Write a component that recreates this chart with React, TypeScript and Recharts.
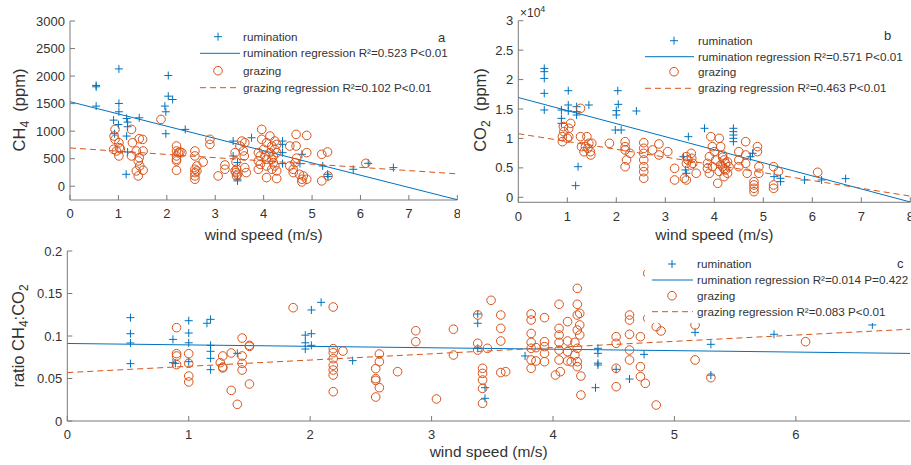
import React from 'react';
import { ScatterChart, Scatter, XAxis, YAxis, Legend, Label } from 'recharts';

const FONT = '"Liberation Sans", Arial, Helvetica, sans-serif';
const BLUE = '#0072BD';
const ORANGE = '#D95319';
const AXIS = '#7a7a7a';
const TEXT = '#333333';

type P = [number, number];

// ---------- panel a : CH4 (ppm) ----------
const aRumination: P[] = [
  [0.54, 1830], [0.54, 1805], [0.54, 1455], [1.01, 2130], [1.01, 1503], [1.01, 1352], [1.0, 1120],
  [0.9, 1200], [0.92, 953], [1.17, 1231], [1.19, 1165], [1.19, 1080], [1.17, 911], [1.19, 622],
  [1.16, 217], [1.43, 1243], [2.03, 2010], [2.03, 1635], [2.12, 1575], [1.96, 1455], [1.98, 1352],
  [1.98, 953], [2.38, 1032], [3.37, 820], [3.37, 549], [3.46, 430], [3.46, 127], [3.46, 97],
  [3.75, 880], [4.39, 820], [4.39, 760], [4.39, 610], [4.39, 410], [4.79, 580], [4.75, 410],
  [5.22, 368], [5.32, 217], [5.33, 175], [5.85, 308], [6.16, 416], [6.68, 338],
];
const aGrazing: P[] = [
  [0.93, 1032], [0.91, 911], [0.93, 851], [0.9, 670], [0.96, 640], [1.01, 790], [1.02, 700], [1.01, 550],
  [1.04, 680], [1.27, 1032], [1.29, 790], [1.27, 550], [1.37, 640], [1.43, 863], [1.43, 519], [1.41, 459],
  [1.41, 187], [1.37, 278], [1.44, 368], [1.5, 850], [1.51, 640], [1.51, 290], [1.88, 1213],
  [2.2, 730], [2.2, 640], [2.2, 550], [2.2, 489], [2.2, 459], [2.2, 290], [2.24, 610], [2.27, 622],
  [2.31, 610], [2.58, 640], [2.58, 550], [2.58, 308], [2.58, 248], [2.58, 187], [2.58, 127], [2.62, 368],
  [2.62, 278], [2.75, 440], [2.89, 851], [2.89, 760], [3.06, 187], [3.2, 386], [3.2, 308],
  [3.41, 610], [3.43, 440], [3.41, 278], [3.43, 248], [3.44, 187], [3.46, 217], [3.44, 308],
  [3.51, 730], [3.55, 820], [3.58, 640], [3.6, 549], [3.61, 338], [3.64, 248], [3.61, 790],
  [3.96, 1032], [3.96, 851], [3.89, 610], [3.93, 549], [3.89, 459], [3.93, 398], [3.89, 308], [4.0, 670],
  [4.03, 549], [4.06, 489], [4.06, 790], [4.06, 368], [4.06, 157], [4.13, 911], [4.17, 730], [4.2, 549],
  [4.2, 428], [4.23, 368], [4.13, 610], [4.17, 489], [4.17, 308], [4.23, 670], [4.27, 760], [4.27, 610],
  [4.27, 278], [4.23, 820], [4.27, 140], [4.54, 730], [4.67, 941], [4.67, 730], [4.54, 368], [4.65, 428],
  [4.61, 308], [4.68, 510], [4.61, 248], [4.74, 217], [4.79, 127], [4.79, 78], [4.82, 187], [4.89, 923],
  [4.89, 610], [4.89, 127], [5.2, 580], [5.2, 97], [5.32, 622], [5.33, 187], [6.11, 416],
];
const aRuminationFit: P[] = [[0, 1535], [8, -245]];
const aGrazingFit: P[] = [[0, 695], [8, 225]];
const aXTicks = [0, 1, 2, 3, 4, 5, 6, 7, 8];
const aYTicks = [0, 500, 1000, 1500, 2000, 2500, 3000];

// ---------- panel b : CO2 (ppm) ----------
const bRumination: P[] = [
  [0.53, 21900], [0.53, 21340], [0.53, 20200], [0.53, 17660], [0.53, 14830], [1.02, 18110], [1.02, 15680],
  [1.02, 14660], [0.88, 14830], [0.88, 13410], [0.88, 12560], [1.19, 15400], [1.19, 14550], [1.19, 13980],
  [1.22, 5200], [1.17, 1980], [1.44, 15680], [2.03, 18110], [2.04, 15790], [2.0, 14720], [2.0, 13980],
  [1.98, 11430], [2.1, 11430], [2.41, 14660], [3.47, 10300], [3.37, 6900], [3.41, 4640], [3.43, 4080],
  [3.8, 11720], [4.39, 11720], [4.39, 11150], [4.39, 10580], [4.39, 10020], [4.39, 9450], [4.78, 7470],
  [4.74, 6900], [5.22, 3510], [5.35, 3230], [5.35, 2660], [5.84, 2940], [6.19, 2940], [6.68, 3170],
];
const bGrazing: P[] = [
  [0.92, 12000], [0.93, 11150], [0.9, 10300], [0.9, 9450], [1.07, 12560], [1.03, 11720], [1.03, 10300],
  [1.0, 10020], [1.27, 15110], [1.27, 10300], [1.29, 8600], [1.37, 8600], [1.34, 7750], [1.4, 10300],
  [1.44, 9170], [1.5, 9170], [1.47, 7750], [1.48, 7190], [1.42, 8320], [1.86, 9170], [2.18, 9450],
  [2.18, 8600], [2.18, 8040], [2.21, 6340], [2.18, 5200], [2.28, 7470], [2.56, 9280], [2.56, 8320],
  [2.56, 7470], [2.56, 6340], [2.56, 5200], [2.56, 4360], [2.56, 3230], [2.74, 8040], [2.87, 9060],
  [2.87, 7190], [3.05, 7750], [3.19, 4920], [3.19, 2940], [3.43, 6900], [3.43, 5770], [3.43, 2940],
  [3.39, 3230], [3.46, 6340], [3.53, 7470], [3.54, 6620], [3.56, 5770], [3.63, 4080], [3.53, 5490],
  [3.93, 10300], [3.96, 8600], [3.9, 6900], [3.86, 5770], [3.86, 4920], [3.9, 4080], [4.0, 7750],
  [4.03, 6340], [4.07, 2380], [3.96, 5200], [4.1, 10020], [4.13, 8600], [4.17, 7190], [4.2, 6340],
  [4.23, 5770], [4.17, 5200], [4.23, 4640], [4.27, 4080], [4.3, 5200], [4.2, 3510], [4.13, 5500],
  [4.2, 4800], [4.1, 4400], [4.27, 6000], [4.17, 6800], [4.5, 7750], [4.5, 6340], [4.5, 5200],
  [4.64, 9450], [4.64, 7190], [4.64, 5770], [4.67, 4080], [4.81, 2660], [4.81, 1530], [4.81, 2090],
  [4.81, 960], [4.88, 8600], [4.88, 7750], [4.91, 5200], [4.91, 4080], [5.21, 5200], [5.21, 2090],
  [5.21, 1530], [5.31, 4360], [6.11, 4250],
];
const bRuminationFit: P[] = [[0, 16950], [8, -800]];
const bGrazingFit: P[] = [[0, 10800], [8, 200]];
const bXTicks = [0, 1, 2, 3, 4, 5, 6, 7, 8];
const bYTicks = [0, 5000, 10000, 15000, 20000, 25000, 30000];

// ---------- panel c : ratio CH4:CO2 ----------
const cRumination: P[] = [
  [0.52, 0.1216], [0.52, 0.1027], [0.52, 0.0918], [0.52, 0.0675], [0.87, 0.096], [0.87, 0.0686],
  [0.89, 0.0678], [1.0, 0.118], [1.0, 0.1035], [1.0, 0.092], [1.0, 0.0698], [1.15, 0.115], [1.18, 0.1196],
  [1.18, 0.089], [1.18, 0.082], [1.18, 0.0737], [1.18, 0.0604], [1.4, 0.0796], [1.96, 0.101], [1.96, 0.092],
  [1.96, 0.0847], [2.01, 0.1306], [2.01, 0.1027], [2.01, 0.089], [2.09, 0.1396], [2.35, 0.071],
  [3.38, 0.1259], [3.38, 0.115], [3.38, 0.0855], [3.44, 0.0392], [3.44, 0.0267], [3.77, 0.0765],
  [4.37, 0.0855], [4.37, 0.0796], [4.37, 0.068], [4.37, 0.0659], [4.35, 0.0392], [4.52, 0.0608],
  [4.63, 0.0494], [4.75, 0.0784], [5.17, 0.1043], [5.3, 0.0902], [5.3, 0.054], [5.82, 0.102], [6.63, 0.113],
];
const cGrazing: P[] = [
  [0.9, 0.1098], [0.9, 0.0792], [0.9, 0.0765], [0.9, 0.0663], [1.0, 0.0792], [1.0, 0.0678], [1.0, 0.0529],
  [1.0, 0.0459], [1.26, 0.0686], [1.28, 0.0635], [1.28, 0.0624], [1.28, 0.0765], [1.35, 0.08], [1.35, 0.036],
  [1.4, 0.0196], [1.44, 0.0976], [1.44, 0.0765], [1.44, 0.0678], [1.44, 0.06], [1.5, 0.089], [1.5, 0.0878],
  [1.5, 0.0435], [1.86, 0.1333], [2.19, 0.1341], [2.19, 0.0851], [2.19, 0.0804], [2.19, 0.0733],
  [2.19, 0.0655], [2.19, 0.06], [2.19, 0.0541], [2.19, 0.0345], [2.27, 0.0823], [2.54, 0.0616],
  [2.54, 0.0498], [2.54, 0.0478], [2.54, 0.0282], [2.57, 0.0788], [2.57, 0.0698], [2.57, 0.0392],
  [2.72, 0.058], [2.87, 0.1062], [2.87, 0.0933], [3.04, 0.0259], [3.18, 0.108], [3.18, 0.0776],
  [3.38, 0.1247], [3.38, 0.0914], [3.38, 0.0835], [3.42, 0.062], [3.42, 0.056], [3.42, 0.0482],
  [3.42, 0.0384], [3.42, 0.0208], [3.46, 0.0855], [3.49, 0.142], [3.57, 0.1247], [3.57, 0.109],
  [3.57, 0.0941], [3.57, 0.057], [3.61, 0.058], [3.82, 0.1259], [3.82, 0.1188], [3.82, 0.103],
  [3.82, 0.0925], [3.82, 0.0855], [3.82, 0.0718], [3.82, 0.062], [3.86, 0.0863], [3.86, 0.0706],
  [3.93, 0.1216], [3.93, 0.0933], [3.93, 0.0875], [3.93, 0.0796], [3.93, 0.0698], [4.05, 0.1373],
  [4.05, 0.109], [4.05, 0.1012], [4.05, 0.0925], [4.05, 0.0835], [4.05, 0.0718], [4.02, 0.0541],
  [4.06, 0.058], [4.12, 0.1169], [4.12, 0.0941], [4.12, 0.0816], [4.12, 0.0706], [4.15, 0.0698],
  [4.2, 0.156], [4.2, 0.1373], [4.22, 0.1267], [4.2, 0.1247], [4.22, 0.113], [4.2, 0.107], [4.22, 0.1012],
  [4.18, 0.0925], [4.2, 0.0698], [4.2, 0.0639], [4.23, 0.0529], [4.23, 0.0306], [4.2, 0.0855],
  [4.18, 0.0776], [4.52, 0.0992], [4.52, 0.0914], [4.52, 0.062], [4.52, 0.0404], [4.63, 0.1247],
  [4.63, 0.1188], [4.63, 0.102], [4.63, 0.0835], [4.63, 0.0718], [4.72, 0.0992], [4.72, 0.0639],
  [4.72, 0.0522], [4.76, 0.0443], [4.78, 0.1737], [4.78, 0.1208], [4.85, 0.111], [4.85, 0.0188],
  [4.89, 0.1059], [5.17, 0.113], [5.17, 0.0718], [5.3, 0.051], [6.08, 0.0933],
];
const cRuminationFit: P[] = [[0, 0.0912], [6.94, 0.0795]];
const cGrazingFit: P[] = [[0, 0.057], [6.94, 0.108]];
const cXTicks = [0, 1, 2, 3, 4, 5, 6];
const cYTicks = [0, 0.05, 0.1, 0.15, 0.2];

const legendLabelsA = ['rumination', 'rumination regression R\u00b2=0.523 P<0.01', 'grazing', 'grazing regression R\u00b2=0.102 P<0.01'];
const legendLabelsB = ['rumination', 'rumination regression R\u00b2=0.571 P<0.01', 'grazing', 'grazing regression R\u00b2=0.463 P<0.01'];
const legendLabelsC = ['rumination', 'rumination regression R\u00b2=0.014 P=0.422', 'grazing', 'grazing regression R\u00b2=0.083 P<0.01'];

const toPts = (a: P[]) => a.map(([x, y]) => ({ x, y }));

const PlusShape = (props: any) => {
  const { cx, cy } = props;
  if (cx == null || cy == null) return <g />;
  return <path d={`M${cx - 4},${cy}H${cx + 4}M${cx},${cy - 4}V${cy + 4}`} stroke={BLUE} strokeWidth={1} fill="none" />;
};
const CircleShape = (props: any) => {
  const { cx, cy } = props;
  if (cx == null || cy == null) return <g />;
  return <circle cx={cx} cy={cy} r={4.3} stroke={ORANGE} strokeWidth={1} fill="none" />;
};
const NoShape = () => <g />;

type LegendCfg = {
  left: number; top: number; w: number; h: number; bg: boolean;
  rows: number[]; markerX: number; lineX1: number; lineX2: number; textX: number;
  letter: string; letterX: number; letterY: number; labels: string[];
};

const makeLegend = (c: LegendCfg) => () => (
  <svg width={c.w} height={c.h} style={{ display: 'block', overflow: 'visible' }}>
    {c.bg && <rect x={0} y={0} width={c.w} height={c.h} fill="#ffffff" />}
    <path d={`M${c.markerX - 4},${c.rows[0]}H${c.markerX + 4}M${c.markerX},${c.rows[0] - 4}V${c.rows[0] + 4}`} stroke={BLUE} strokeWidth={1} fill="none" />
    <line x1={c.lineX1} x2={c.lineX2} y1={c.rows[1]} y2={c.rows[1]} stroke={BLUE} strokeWidth={1} />
    <circle cx={c.markerX} cy={c.rows[2]} r={4.3} stroke={ORANGE} strokeWidth={1} fill="none" />
    <line x1={c.lineX1} x2={c.lineX2} y1={c.rows[3]} y2={c.rows[3]} stroke={ORANGE} strokeWidth={1} strokeDasharray="6 4" />
    {c.labels.map((t, i) => (
      <text key={i} x={c.textX} y={c.rows[i]} dy="0.35em" fontSize={11.7} fill={TEXT} fontFamily={FONT}>{t}</text>
    ))}
    <text x={c.letterX} y={c.letterY} dy="0.35em" fontSize={13} fill={TEXT} fontFamily={FONT}>{c.letter}</text>
  </svg>
);

type PanelProps = {
  left: number; top: number; width: number; height: number;
  margin: { top: number; right: number; bottom: number; left: number };
  yAxisWidth: number; xAxisHeight: number;
  xDomain: [number, number]; xTicks: number[];
  yDomain: [number, number]; yTicks: number[]; yFmt?: (v: number) => string;
  rum: P[]; graz: P[]; rumFit: P[]; grazFit: P[];
  yLabel: React.ReactNode; yLabelX: number; yLabelY: number;
  extraLabel?: React.ReactNode;
  xLabelY: number;
  legend: LegendCfg;
};

const tickStyle = { fill: TEXT, fontSize: 13, fontFamily: FONT };

function Panel(p: PanelProps) {
  const xLabelContent = (props: any) => {
    const vb = props.viewBox || {};
    const cx = (vb.x ?? 0) + (vb.width ?? 0) / 2;
    return (
      <text x={cx} y={p.xLabelY} textAnchor="middle" fontSize={15.5} fill={TEXT} fontFamily={FONT}>wind speed (m/s)</text>
    );
  };
  const yLabelContent = () => (
    <g>
      <text x={p.yLabelX} y={p.yLabelY} dy="0.35em" transform={`rotate(-90 ${p.yLabelX} ${p.yLabelY})`} textAnchor="middle" fontSize={16.5} fill={TEXT} fontFamily={FONT}>
        {p.yLabel}
      </text>
      {p.extraLabel}
    </g>
  );
  return (
    <div style={{ position: 'absolute', left: p.left, top: p.top, width: p.width, height: p.height }}>
      <ScatterChart width={p.width} height={p.height} margin={p.margin}>
        <XAxis xAxisId={0} type="number" dataKey="x" domain={p.xDomain} ticks={p.xTicks} allowDataOverflow
          height={p.xAxisHeight} tickSize={-5} tickMargin={14} tick={tickStyle}
          axisLine={{ stroke: AXIS }} tickLine={{ stroke: AXIS }} interval={0}>
          <Label content={xLabelContent} />
        </XAxis>
        <XAxis xAxisId="top" orientation="top" type="number" domain={p.xDomain} ticks={p.xTicks} allowDataOverflow
          height={0} tickSize={-5} tick={false} axisLine={{ stroke: AXIS }} tickLine={{ stroke: AXIS }} interval={0} />
        <YAxis yAxisId={0} type="number" dataKey="y" domain={p.yDomain} ticks={p.yTicks} allowDataOverflow
          width={p.yAxisWidth} tickSize={-5} tickMargin={10} tick={tickStyle} tickFormatter={p.yFmt}
          axisLine={{ stroke: AXIS }} tickLine={{ stroke: AXIS }} interval={0}>
          <Label content={yLabelContent} />
        </YAxis>
        <YAxis yAxisId="right" orientation="right" type="number" domain={p.yDomain} ticks={p.yTicks} allowDataOverflow
          width={0} tickSize={-5} tick={false} axisLine={{ stroke: AXIS }} tickLine={{ stroke: AXIS }} interval={0} />
        <Scatter name="rumination" data={toPts(p.rum)} shape={PlusShape} isAnimationActive={false} />
        <Scatter name="rumination regression" data={toPts(p.rumFit)} shape={NoShape}
          line={{ stroke: BLUE, strokeWidth: 1 }} isAnimationActive={false} />
        <Scatter name="grazing" data={toPts(p.graz)} shape={CircleShape} isAnimationActive={false} />
        <Scatter name="grazing regression" data={toPts(p.grazFit)} shape={NoShape}
          line={{ stroke: ORANGE, strokeWidth: 1, strokeDasharray: '6 4' }} isAnimationActive={false} />
        <Legend layout="horizontal" verticalAlign="middle" align="center"
          wrapperStyle={{ position: 'absolute', left: p.legend.left, top: p.legend.top, width: p.legend.w, height: p.legend.h }}
          content={makeLegend(p.legend)} />
      </ScatterChart>
    </div>
  );
}

export default function App() {
  return (
    <div style={{ position: 'absolute', left: 0, top: 0, width: 911, height: 465, overflow: 'hidden', background: '#ffffff', fontFamily: FONT }}>
      <Panel
        left={0} top={235} width={911} height={230}
        margin={{ top: 16, right: 1, bottom: 0, left: 0 }}
        yAxisWidth={67.3} xAxisHeight={44}
        xDomain={[0, 6.94]} xTicks={cXTicks}
        yDomain={[0, 0.2]} yTicks={cYTicks}
        rum={cRumination} graz={cGrazing} rumFit={cRuminationFit} grazFit={cGrazingFit}
        yLabel={<>ratio CH<tspan fontSize={12} dy={4}>4</tspan><tspan dy={-4}>:CO</tspan><tspan fontSize={12} dy={4}>2</tspan></>}
        yLabelX={18} yLabelY={101}
        xLabelY={222}
        legend={{ left: 645, top: 17, w: 266, h: 71, bg: true, rows: [12, 28, 43.7, 59.7], markerX: 27, lineX1: 7, lineX2: 48, textX: 52, letter: 'c', letterX: 252, letterY: 11, labels: legendLabelsC }}
      />
      <Panel
        left={0} top={0} width={460} height={250}
        margin={{ top: 21, right: 2.7, bottom: 0, left: 0 }}
        yAxisWidth={70} xAxisHeight={50}
        xDomain={[0, 8]} xTicks={aXTicks}
        yDomain={[-250, 3000]} yTicks={aYTicks}
        rum={aRumination} graz={aGrazing} rumFit={aRuminationFit} grazFit={aGrazingFit}
        yLabel={<>CH<tspan fontSize={12} dy={4}>4</tspan><tspan dy={-4}>{'\u00a0 (ppm)'}</tspan></>}
        yLabelX={19} yLabelY={110}
        xLabelY={240}
        legend={{ left: 195, top: 26, w: 265, h: 72, bg: false, rows: [10.7, 27.3, 44.7, 61.7], markerX: 23, lineX1: 5, lineX2: 45, textX: 48, letter: 'a', letterX: 243, letterY: 11, labels: legendLabelsA }}
      />
      <Panel
        left={455} top={0} width={456} height={250}
        margin={{ top: 20.7, right: 0.7, bottom: 0, left: 0 }}
        yAxisWidth={63.3} xAxisHeight={47.7}
        xDomain={[0, 8]} xTicks={bXTicks}
        yDomain={[-850, 30000]} yTicks={bYTicks} yFmt={(v: number) => String(v / 10000)}
        rum={bRumination} graz={bGrazing} rumFit={bRuminationFit} grazFit={bGrazingFit}
        yLabel={<>CO<tspan fontSize={12} dy={4}>2</tspan><tspan dy={-4}>{'\u00a0 (ppm)'}</tspan></>}
        yLabelX={25} yLabelY={110}
        extraLabel={<text x={65} y={17} fontSize={12} fill={TEXT} fontFamily={FONT}>{'\u00d710'}<tspan fontSize={9} dy={-5}>4</tspan></text>}
        xLabelY={240}
        legend={{ left: 185, top: 26, w: 271, h: 72, bg: false, rows: [14.7, 30.7, 45.7, 62.3], markerX: 34, lineX1: 5, lineX2: 54, textX: 58, letter: 'b', letterX: 244, letterY: 9, labels: legendLabelsB }}
      />
    </div>
  );
}
